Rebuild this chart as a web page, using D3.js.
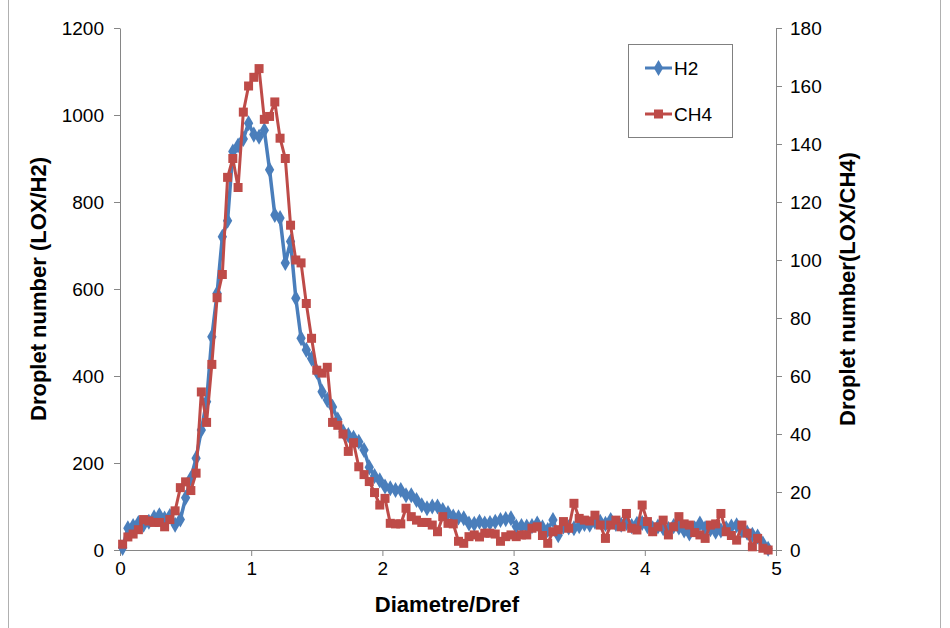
<!DOCTYPE html>
<html><head>
<meta charset="utf-8">
<style>
body { margin: 0; background: #fff; }
svg { display: block; font-family: "Liberation Sans", Arial, sans-serif; }
</style>
</head>
<body>
<svg id="chart" width="950" height="628"></svg>
<script src="https://cdnjs.cloudflare.com/ajax/libs/d3/7.8.5/d3.min.js"></script>
<script>
// bin centres (Diametre/Dref)
const diam = [
  0.02,0.06,0.10,0.14,0.18,0.22,0.26,0.30,0.34,0.38,0.42,0.46,0.50,0.54,0.58,0.62,0.66,0.70,0.74,0.78,
  0.82,0.86,0.90,0.94,0.98,1.02,1.06,1.10,1.14,1.18,1.22,1.26,1.30,1.34,1.38,1.42,1.46,1.50,1.54,1.58,
  1.62,1.66,1.70,1.74,1.78,1.82,1.86,1.90,1.94,1.98,2.02,2.06,2.10,2.14,2.18,2.22,2.26,2.30,2.34,2.38,
  2.42,2.46,2.50,2.54,2.58,2.62,2.66,2.70,2.74,2.78,2.82,2.86,2.90,2.94,2.98,3.02,3.06,3.10,3.14,3.18,
  3.22,3.26,3.30,3.34,3.38,3.42,3.46,3.50,3.54,3.58,3.62,3.66,3.70,3.74,3.78,3.82,3.86,3.90,3.94,3.98,
  4.02,4.06,4.10,4.14,4.18,4.22,4.26,4.30,4.34,4.38,4.42,4.46,4.50,4.54,4.58,4.62,4.66,4.70,4.74,4.78,
  4.82,4.86,4.90,4.94
];

// droplet numbers, LOX/H2 (left axis)
const h2 = [
  5,50,55,62,58,65,75,80,72,78,58,70,120,165,211,276,341,490,590,720,
  757,916,930,945,981,955,950,965,874,770,763,660,709,579,487,460,440,410,364,345,
  329,300,272,264,258,249,230,190,170,160,146,142,138,138,126,126,115,103,96,100,
  100,92,85,77,75,73,61,60,65,61,62,65,69,71,73,54,55,54,55,61,
  52,46,69,34,54,52,50,55,60,58,65,65,60,69,60,58,62,55,60,62,
  55,50,54,50,48,55,52,45,38,50,61,50,48,42,45,50,54,57,45,40,
  35,31,15,3
];

// droplet numbers, LOX/CH4 (right axis)
const ch4 = [
  2,4.5,5.5,7,10.5,10,9.5,9.5,8,10.5,13.5,21.5,23.5,20.5,26.5,54.5,44,64,87,95,
  128.5,135,125,151,160,163,166,148.5,149.5,154.5,142,135,112,100,99,85,73,62,61,63,
  44,43,40,34,37,28.7,26,23.6,19.8,15.5,17.8,9.2,9,9,14.4,11.5,10.3,9.5,9.5,8.6,
  6.3,11.5,9.2,9,3,2.3,4.6,5.2,4.5,5.8,5.8,5.5,3,4.6,5.2,4.6,5.2,5.2,7.5,8,
  5,2.3,6.3,7,9.8,7.5,16.1,10.9,10.3,10,12,8.6,4,8.6,10.3,8,12.6,7.5,6.9,15.5,
  9.8,6.3,8,10.3,5.2,8,11.5,9,8.6,6,5.2,4,8.6,9,12.6,6.3,5,3.4,8.6,5.8,
  1.1,4,0.6,0
];

const xTicks = [0, 1, 2, 3, 4, 5];
const leftTicks = [0, 200, 400, 600, 800, 1000, 1200];
const rightTicks = [0, 20, 40, 60, 80, 100, 120, 140, 160, 180];

const BLUE = "#4a7ebb";
const RED = "#be4b48";
const AXIS = "#868686";

const svg = d3.select("#chart");
const plot = { left: 120, right: 776, top: 28, bottom: 550 };

const x = d3.scaleLinear().domain([0, 5]).range([plot.left, plot.right]);
const yL = d3.scaleLinear().domain([0, 1200]).range([plot.bottom, plot.top]);
const yR = d3.scaleLinear().domain([0, 180]).range([plot.bottom, plot.top]);
const fmt = d3.format("d");

// chart area frame
svg.append("rect")
  .attr("x", 8.5).attr("y", -5)
  .attr("width", 932).attr("height", 645)
  .attr("fill", "none").attr("stroke", "#b0b0b0");

function styleAxis(g) {
  g.select(".domain").attr("stroke", AXIS);
  g.selectAll(".tick line").attr("stroke", AXIS);
  g.selectAll(".tick text").attr("fill", "#000").attr("font-size", 19)
    .attr("font-family", "Liberation Sans, Arial, sans-serif");
}

svg.append("g")
  .attr("transform", `translate(0,${plot.bottom})`)
  .call(d3.axisBottom(x).tickValues(xTicks).tickFormat(fmt).tickSize(6).tickSizeOuter(0).tickPadding(6))
  .call(styleAxis);

svg.append("g")
  .attr("transform", `translate(${plot.left},0)`)
  .call(d3.axisLeft(yL).tickValues(leftTicks).tickFormat(fmt).tickSize(6).tickSizeOuter(0).tickPadding(10))
  .call(styleAxis);

svg.append("g")
  .attr("transform", `translate(${plot.right},0)`)
  .call(d3.axisRight(yR).tickValues(rightTicks).tickFormat(fmt).tickSize(6).tickSizeOuter(0).tickPadding(8))
  .call(styleAxis);

// series
const ptsH2 = diam.map((d, i) => [d, h2[i]]);
const ptsCH4 = diam.map((d, i) => [d, ch4[i]]);

svg.append("path")
  .datum(ptsH2)
  .attr("fill", "none").attr("stroke", BLUE).attr("stroke-width", 3.5)
  .attr("stroke-linejoin", "round")
  .attr("d", d3.line().x(d => x(d[0])).y(d => yL(d[1])));

const diamond = d3.symbol().type(d3.symbolDiamond).size(75);
svg.append("g").selectAll("path")
  .data(ptsH2)
  .join("path")
  .attr("d", diamond)
  .attr("transform", d => `translate(${x(d[0])},${yL(d[1])})`)
  .attr("fill", BLUE);

svg.append("path")
  .datum(ptsCH4)
  .attr("fill", "none").attr("stroke", RED).attr("stroke-width", 3)
  .attr("stroke-linejoin", "round")
  .attr("d", d3.line().x(d => x(d[0])).y(d => yR(d[1])));

svg.append("g").selectAll("rect")
  .data(ptsCH4)
  .join("rect")
  .attr("x", d => x(d[0]) - 4.5)
  .attr("y", d => yR(d[1]) - 4.5)
  .attr("width", 9).attr("height", 9)
  .attr("fill", RED);

// axis titles
svg.append("text")
  .attr("x", 447).attr("y", 612)
  .attr("text-anchor", "middle")
  .attr("font-size", 22).attr("font-weight", "bold")
  .text("Diametre/Dref");

svg.append("text")
  .attr("transform", "translate(46,289) rotate(-90)")
  .attr("text-anchor", "middle")
  .attr("font-size", 22).attr("font-weight", "bold")
  .text("Droplet number (LOX/H2)");

svg.append("text")
  .attr("transform", "translate(855,289) rotate(-90)")
  .attr("text-anchor", "middle")
  .attr("font-size", 22).attr("font-weight", "bold")
  .text("Droplet number(LOX/CH4)");

// legend
const legend = svg.append("g");
legend.append("rect")
  .attr("x", 628.5).attr("y", 44.5).attr("width", 104).attr("height", 93)
  .attr("fill", "#fff").attr("stroke", "#808080");

const legendItems = [
  { name: "H2", color: BLUE, y: 68, mark: "diamond" },
  { name: "CH4", color: RED, y: 114, mark: "square" }
];
legendItems.forEach(it => {
  legend.append("line")
    .attr("x1", 645).attr("x2", 672).attr("y1", it.y).attr("y2", it.y)
    .attr("stroke", it.color).attr("stroke-width", 3);
  if (it.mark === "diamond") {
    legend.append("path").attr("d", diamond)
      .attr("transform", `translate(658.5,${it.y})`).attr("fill", it.color);
  } else {
    legend.append("rect").attr("x", 654).attr("y", it.y - 4.5)
      .attr("width", 9).attr("height", 9).attr("fill", it.color);
  }
  legend.append("text")
    .attr("x", 674).attr("y", it.y + 7)
    .attr("font-size", 19)
    .text(it.name);
});
</script>
</body>
</html>
